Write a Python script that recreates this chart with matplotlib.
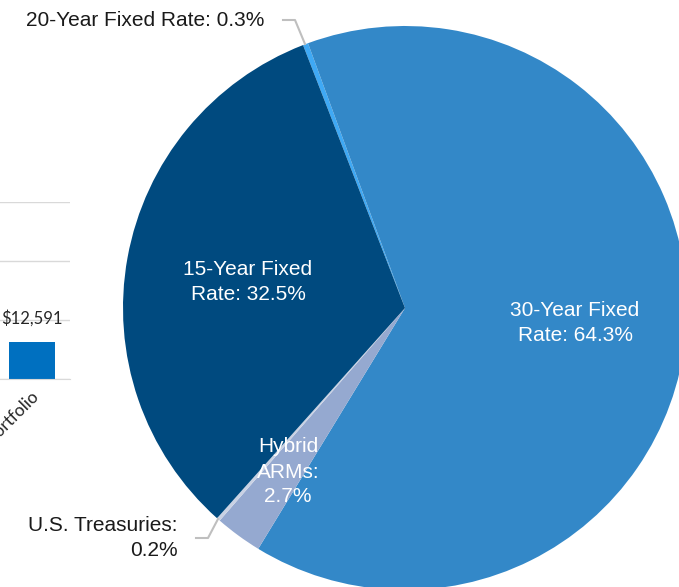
import matplotlib.pyplot as plt
from matplotlib.lines import Line2D

# portfolio composition (pie)
labels = ['20-Year Fixed Rate', '30-Year Fixed Rate', 'Hybrid ARMs',
          'U.S. Treasuries', '15-Year Fixed Rate']
shares = [0.3, 64.3, 2.7, 0.2, 32.5]
colors = ['#3FA9F5', '#3388C8', '#95A9D0', '#C9D2E4', '#004A7F']

# neighbouring bar chart (only one bar shows)
bar_names = ['Portfolio']
bar_values = [12591]
bar_ticks = [0, 20000, 40000, 60000]

W, H = 679, 587
fig = plt.figure(figsize=(W / 100, H / 100), dpi=100)


def px_box(x0, y0, x1, y1):
    # pixel box (top-left origin) -> figure fraction rect
    return [x0 / W, 1 - y1 / H, (x1 - x0) / W, (y1 - y0) / H]


# --- bar chart on the left
axb = fig.add_axes(px_box(-6, 202, 70, 379))
axb.bar(range(len(bar_values)), bar_values, width=0.6, color='#0070C0')
axb.set_xlim(-0.5, 0.5)
axb.set_ylim(bar_ticks[0], bar_ticks[-1])
axb.set_yticks(bar_ticks)
axb.yaxis.grid(True, color='#D9D9D9', lw=1)
axb.set_axisbelow(True)
axb.tick_params(left=False, bottom=False, labelleft=False, labelbottom=False)
for s in axb.spines.values():
    s.set_visible(False)
axb.spines['bottom'].set_visible(True)
axb.spines['bottom'].set_color('#D9D9D9')
for i, v in enumerate(bar_values):
    axb.text(i, v + 8100, f'${v:,}', ha='center', va='center',
             fontsize=12, family='Lato', color='#262626')
fig.text(30 / W, 1 - 388 / H, bar_names[0], rotation=45, ha='right', va='top',
         rotation_mode='anchor', fontsize=12.5, family='Lato', color='#262626')

# --- pie chart
cx, cy, r = 405, 308, 282
ax = fig.add_axes(px_box(cx - r, cy - r, cx + r, cy + r))
ax.pie(shares, colors=colors, startangle=111.2, counterclock=False,
       radius=1, wedgeprops=dict(linewidth=0))
ax.set_xlim(-1, 1)
ax.set_ylim(-1, 1)
ax.set_aspect('equal')
ax.axis('off')
for p in ax.patches:
    p.set_clip_on(False)

font = dict(family='Liberation Sans', fontsize=15, linespacing=1.4)


def ftext(x, y, s, **kw):
    fig.text(x / W, 1 - y / H, s, **font, **kw)


ftext(264, 20, '20-Year Fixed Rate: 0.3%', ha='right', va='center', color='#1A1A1A')
ftext(248, 282, '15-Year Fixed\nRate: 32.5%', ha='center', va='center',
      color='white')
ftext(575, 323, '30-Year Fixed\nRate: 64.3%', ha='center', va='center',
      color='white')
ftext(288, 472, 'Hybrid\nARMs:\n2.7%', ha='center', va='center',
      color='white')
ftext(178, 538, 'U.S. Treasuries:\n0.2%', ha='right', va='center',
      color='#1A1A1A', multialignment='right')

# leader lines
for xs, ys in [([283, 295, 305], [20, 20, 44]),
               ([196, 208, 218], [538, 538, 519])]:
    fig.add_artist(Line2D([x / W for x in xs], [1 - y / H for y in ys],
                          color='#BFBFBF', lw=1.5))

fig.savefig('out.png', dpi=100)
